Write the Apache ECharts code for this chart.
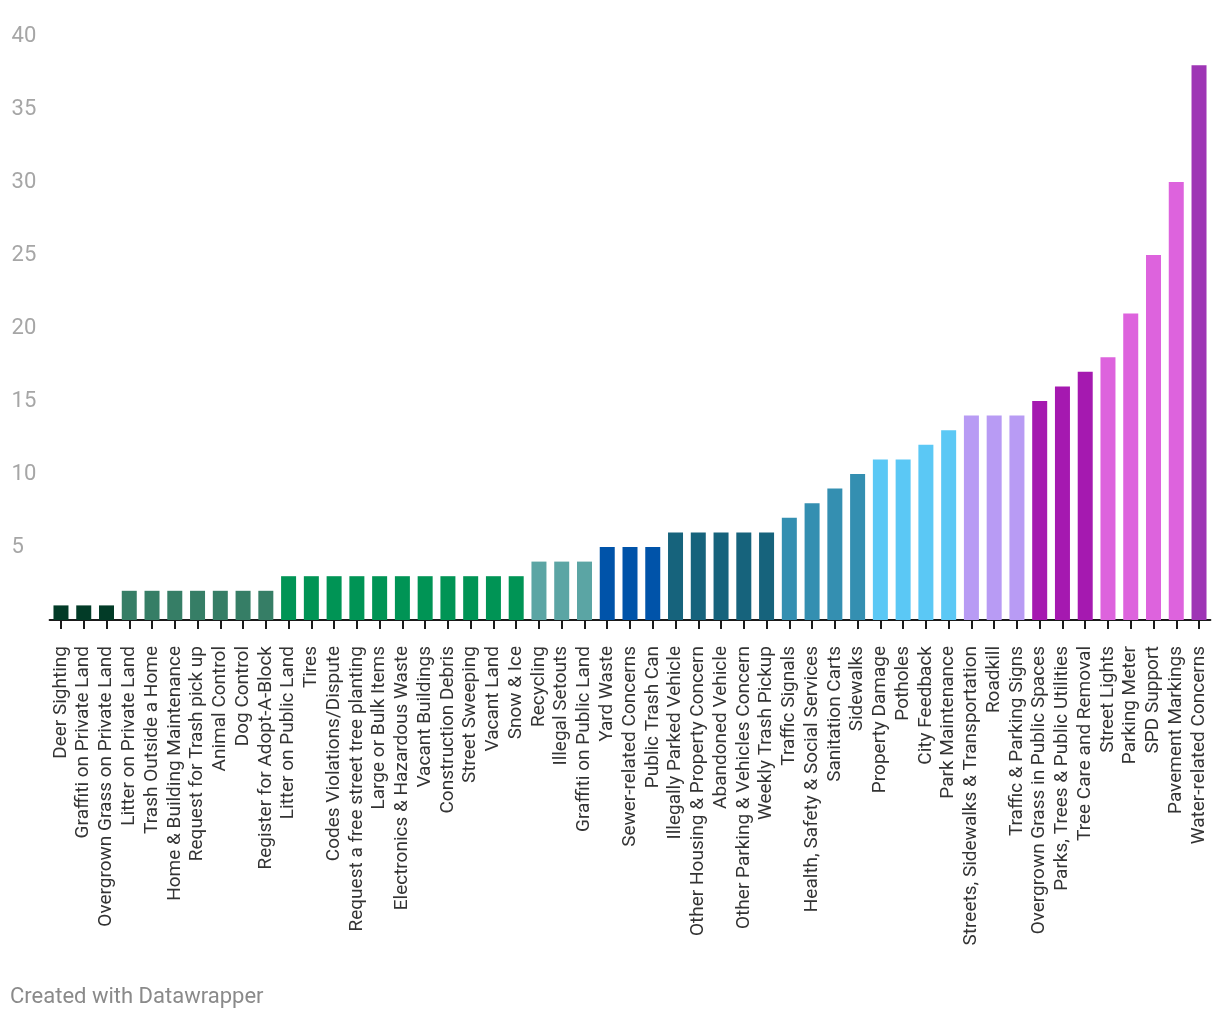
<!DOCTYPE html>
<html>
<head>
<meta charset="utf-8">
<script src="https://cdn.jsdelivr.net/npm/echarts@6/dist/echarts.min.js"></script>
<style>
html,body{margin:0;padding:0;background:#fff;}
#chart{width:1220px;height:1020px;}
</style>
</head>
<body>
<div id="chart"></div>
<script>
const categories = [
  "Deer Sighting","Graffiti on Private Land","Overgrown Grass on Private Land",
  "Litter on Private Land","Trash Outside a Home","Home & Building Maintenance","Request for Trash pick up","Animal Control","Dog Control","Register for Adopt-A-Block",
  "Litter on Public Land","Tires","Codes Violations/Dispute","Request a free street tree planting","Large or Bulk Items","Electronics & Hazardous Waste","Vacant Buildings","Construction Debris","Street Sweeping","Vacant Land","Snow & Ice",
  "Recycling","Illegal Setouts","Graffiti on Public Land",
  "Yard Waste","Sewer-related Concerns","Public Trash Can",
  "Illegally Parked Vehicle","Other Housing & Property Concern","Abandoned Vehicle","Other Parking & Vehicles Concern","Weekly Trash Pickup",
  "Traffic Signals","Health, Safety & Social Services","Sanitation Carts","Sidewalks",
  "Property Damage","Potholes","City Feedback","Park Maintenance",
  "Streets, Sidewalks & Transportation","Roadkill","Traffic & Parking Signs",
  "Overgrown Grass in Public Spaces","Parks, Trees & Public Utilities","Tree Care and Removal",
  "Street Lights","Parking Meter","SPD Support","Pavement Markings",
  "Water-related Concerns"
];
const values = [
  1,1,1,
  2,2,2,2,2,2,2,
  3,3,3,3,3,3,3,3,3,3,3,
  4,4,4,
  5,5,5,
  6,6,6,6,6,
  7,8,9,10,
  11,11,12,13,
  14,14,14,
  15,16,17,
  18,21,25,30,
  38
];
const groups = [
  0,0,0,
  1,1,1,1,1,1,1,
  2,2,2,2,2,2,2,2,2,2,2,
  3,3,3,
  4,4,4,
  5,5,5,5,5,
  6,6,6,6,
  7,7,7,7,
  8,8,8,
  9,9,9,
  10,10,10,10,
  11
];
const groupColors = ["#023b27","#367e66","#009455","#5ba5a4","#0053a9","#16637c","#348fb1","#5bc8f5","#b89bf4","#a519b0","#dd63dd","#9e35b5"];
const yTicks = [0,5,10,15,20,25,30,35,40];

const chart = echarts.init(document.getElementById('chart'), null, {renderer:'canvas'});
chart.setOption({
  animation:false,
  backgroundColor:'#ffffff',
  textStyle:{fontFamily:'Roboto'},
  grid:{left:49.6, right:9.6, top:36, bottom:400, containLabel:false},
  xAxis:{
    type:'category',
    data:categories,
    axisLine:{show:true, lineStyle:{color:'#1a1a1a', width:2}},
    axisTick:{show:true, alignWithLabel:true, length:9, lineStyle:{color:'#1a1a1a', width:2}},
    axisLabel:{rotate:90, interval:0, margin:26, fontSize:19, color:'#333333', fontFamily:'Roboto'},
    splitLine:{show:false}
  },
  yAxis:{
    type:'value',
    min:yTicks[0], max:yTicks[yTicks.length-1], interval:5,
    axisLine:{show:false}, axisTick:{show:false},
    splitLine:{show:false},
    axisLabel:{
      align:'left', margin:38, fontSize:22, color:'#a6a6a6', fontFamily:'Roboto',
      padding:[5,0,0,0],
      formatter:function(v){ return v===0 ? '' : String(v); }
    }
  },
  series:[{
    type:'bar',
    barWidth:15,
    data:values.map(function(v,i){ return {value:v, itemStyle:{color:groupColors[groups[i]]}}; })
  }],
  graphic:[{
    type:'text', left:10, top:986,
    style:{text:'Created with Datawrapper', fontSize:22, fill:'#8a8a8a', fontFamily:'Roboto'}
  }]
});
</script>
</body>
</html>
